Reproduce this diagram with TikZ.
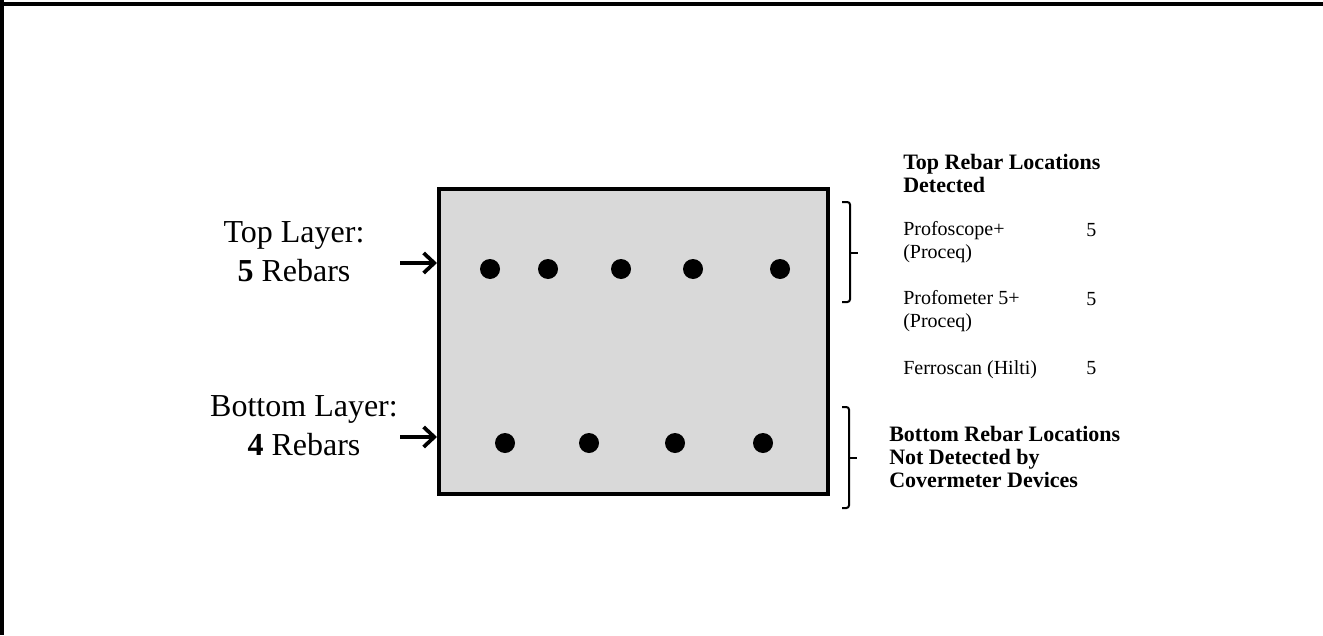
\documentclass[tikz,border=0pt]{standalone}
\usepackage{fontspec}
\setmainfont{Liberation Serif}
\usetikzlibrary{arrows.meta, positioning}

\definecolor{sectiongray}{HTML}{D9D9D9}

\begin{document}
\begin{tikzpicture}[x=0.75pt, y=-0.75pt, >=Stealth]
    \tikzstyle{section} = [draw, line width=3pt, fill=sectiongray, rectangle, minimum width=291.75pt, minimum height=228.75pt, inner sep=0pt]
    \tikzstyle{rebar} = [fill=black, circle, minimum size=15pt, inner sep=0pt]
    \tikzstyle{layerlabel} = [align=center, font=\fontsize{24}{29}\selectfont, inner sep=0pt]
    \tikzstyle{info} = [anchor=base west, align=left, font=\fontsize{15}{17}\selectfont, inner sep=0pt]
    \tikzstyle{infohead} = [info, font=\fontsize{16.5}{17}\selectfont\bfseries]
    \tikzstyle{pointer} = [line width=2.6pt, -{Straight Barb[length=8pt, width=15pt, line width=2.8pt]}]
    \tikzstyle{bracket} = [line width=1.5pt, rounded corners=2pt]

    \useasboundingbox (0,0) rectangle (1323,635);
    % frame
    \draw[line width=3pt] (2,0) -- (2,635);
    \draw[line width=2.5pt] (0,4) -- (1323,4);

    % cross section
    \node [section] (beam) at (633.5,341.5) {};
    \foreach \px [count=\i] in {490,548,621,693,780}
        \node [rebar] (top\i) at (\px,269) {};
    \foreach \px [count=\i] in {505,589,675,763}
        \node [rebar] (bot\i) at (\px,443) {};

    % layer labels
    \node [layerlabel] (toplabel) at (294,252) {Top Layer:\\\textbf{5} Rebars};
    \node [layerlabel] (botlabel) at (304,426) {Bottom Layer:\\\textbf{4} Rebars};
    \coordinate (topstart) at (400,263);
    \coordinate (botstart) at (400,437);
    \draw[pointer] (topstart) -- (beam.west |- topstart);
    \draw[pointer] (botstart) -- (beam.west |- botstart);

    % braces
    \draw[bracket] (842,202) -| (850,302) -- (842,302);
    \draw[bracket] (850,253) -- (858,253);
    \draw[bracket] (842,407) -| (849,508) -- (842,508);
    \draw[bracket] (849,458) -- (857,458);

    % detection results (base = last line)
    \node [infohead] (tophead) at (903,192) {Top Rebar Locations\\Detected};
    \node [info] (dev1) at (903,258) {Profoscope+\\(Proceq)};
    \node [info] (dev2) at (903,327) {Profometer 5+\\(Proceq)};
    \node [info] (dev3) at (903,374) {Ferroscan (Hilti)};
    \node [info] (num1) at (1086,236) {5};
    \node [info] (num2) at (1086,305) {5};
    \node [info] (num3) at (1086,374) {5};
    \node [infohead] (bothead) at (889,487) {Bottom Rebar Locations\\Not Detected by\\Covermeter Devices};
\end{tikzpicture}
\end{document}
